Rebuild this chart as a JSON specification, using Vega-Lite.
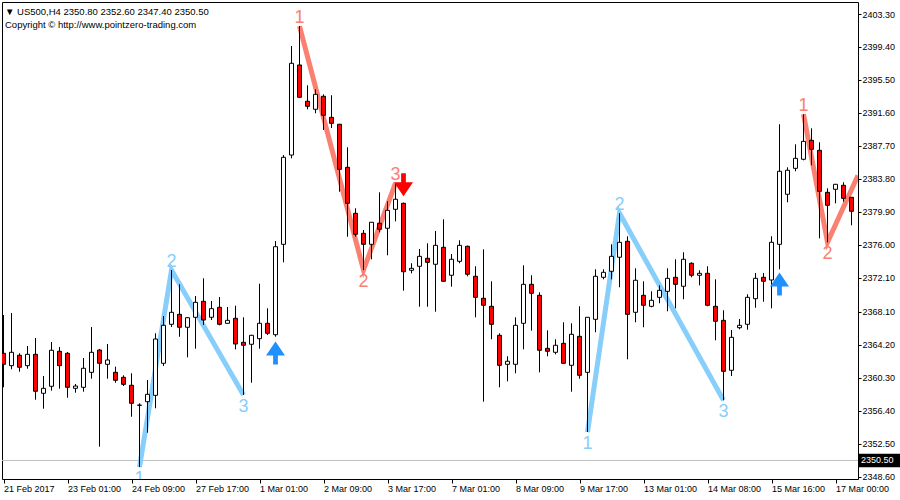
{
  "$schema": "https://vega.github.io/schema/vega-lite/v6.json",
  "autosize": "none",
  "width": 856,
  "height": 477,
  "padding": {"left": 2, "top": 2, "right": 42, "bottom": 21},
  "background": "#ffffff",
  "title": {
    "text": "▼ US500,H4  2350.80 2352.60 2347.40 2350.50",
    "subtitle": "Copyright © http://www.pointzero-trading.com",
    "anchor": "start",
    "frame": "group",
    "font": "Liberation Sans",
    "fontSize": 9.5,
    "fontWeight": "normal",
    "color": "#000000",
    "subtitleFont": "Liberation Sans",
    "subtitleFontSize": 9.5,
    "subtitleColor": "#000000",
    "subtitlePadding": 3.5,
    "offset": 0,
    "dx": 3,
    "dy": 27
  },
  "datasets": {
    "candles": [
      {"i":0,"o":2363.17,"h":2367.70,"l":2359.15,"c":2361.87},
      {"i":1,"o":2361.71,"h":2367.94,"l":2361.28,"c":2363.29},
      {"i":2,"o":2362.94,"h":2363.17,"l":2361.00,"c":2361.52},
      {"i":3,"o":2361.71,"h":2364.04,"l":2361.35,"c":2363.05},
      {"i":4,"o":2363.05,"h":2364.98,"l":2357.68,"c":2358.68},
      {"i":5,"o":2358.44,"h":2360.49,"l":2356.62,"c":2359.03},
      {"i":6,"o":2359.27,"h":2364.51,"l":2358.75,"c":2363.53},
      {"i":7,"o":2363.41,"h":2363.92,"l":2358.99,"c":2361.71},
      {"i":8,"o":2363.17,"h":2363.33,"l":2357.92,"c":2359.15},
      {"i":9,"o":2359.03,"h":2359.54,"l":2358.51,"c":2359.30},
      {"i":10,"o":2359.15,"h":2362.62,"l":2358.63,"c":2361.40},
      {"i":11,"o":2360.92,"h":2366.28,"l":2360.17,"c":2363.29},
      {"i":12,"o":2363.56,"h":2363.68,"l":2352.13,"c":2361.99},
      {"i":13,"o":2361.87,"h":2364.27,"l":2360.17,"c":2362.38},
      {"i":14,"o":2360.92,"h":2361.59,"l":2359.69,"c":2359.98},
      {"i":15,"o":2360.33,"h":2360.57,"l":2359.30,"c":2359.50},
      {"i":16,"o":2359.39,"h":2360.81,"l":2355.67,"c":2357.26},
      {"i":17,"o":2357.02,"h":2357.26,"l":2349.72,"c":2357.05},
      {"i":18,"o":2357.45,"h":2360.01,"l":2353.78,"c":2358.32},
      {"i":19,"o":2358.20,"h":2365.54,"l":2356.67,"c":2364.86},
      {"i":20,"o":2361.99,"h":2367.58,"l":2361.67,"c":2366.48},
      {"i":21,"o":2366.60,"h":2373.02,"l":2366.28,"c":2368.02},
      {"i":22,"o":2367.78,"h":2371.33,"l":2365.13,"c":2366.25},
      {"i":23,"o":2366.25,"h":2367.46,"l":2362.70,"c":2367.38},
      {"i":24,"o":2367.43,"h":2369.95,"l":2363.72,"c":2369.20},
      {"i":25,"o":2369.32,"h":2372.04,"l":2366.52,"c":2367.11},
      {"i":26,"o":2367.43,"h":2369.36,"l":2367.11,"c":2368.45},
      {"i":27,"o":2368.61,"h":2369.83,"l":2366.48,"c":2366.60},
      {"i":28,"o":2366.72,"h":2368.65,"l":2366.70,"c":2367.07},
      {"i":29,"o":2367.31,"h":2368.80,"l":2363.64,"c":2364.27},
      {"i":30,"o":2364.47,"h":2367.43,"l":2358.24,"c":2364.12},
      {"i":31,"o":2364.24,"h":2365.35,"l":2359.69,"c":2365.30},
      {"i":32,"o":2364.90,"h":2371.40,"l":2363.72,"c":2366.72},
      {"i":33,"o":2366.72,"h":2368.49,"l":2365.34,"c":2365.54},
      {"i":34,"o":2365.37,"h":2376.45,"l":2365.13,"c":2375.78},
      {"i":35,"o":2376.06,"h":2386.62,"l":2373.93,"c":2386.35},
      {"i":36,"o":2386.62,"h":2399.52,"l":2386.23,"c":2397.47},
      {"i":37,"o":2397.27,"h":2401.88,"l":2393.37,"c":2393.45},
      {"i":38,"o":2392.98,"h":2394.87,"l":2392.03,"c":2392.38},
      {"i":39,"o":2392.03,"h":2394.39,"l":2391.56,"c":2393.80},
      {"i":40,"o":2393.57,"h":2393.80,"l":2389.58,"c":2391.32},
      {"i":41,"o":2391.08,"h":2393.69,"l":2389.82,"c":2390.37},
      {"i":42,"o":2390.26,"h":2390.30,"l":2382.28,"c":2384.93},
      {"i":43,"o":2385.17,"h":2387.54,"l":2376.96,"c":2380.91},
      {"i":44,"o":2379.73,"h":2380.32,"l":2376.96,"c":2377.25},
      {"i":45,"o":2377.36,"h":2377.75,"l":2373.02,"c":2376.06},
      {"i":46,"o":2376.06,"h":2378.70,"l":2374.29,"c":2378.67},
      {"i":47,"o":2378.55,"h":2382.21,"l":2377.48,"c":2377.84},
      {"i":48,"o":2377.96,"h":2381.15,"l":2374.76,"c":2380.08},
      {"i":49,"o":2380.20,"h":2383.31,"l":2378.78,"c":2381.39},
      {"i":50,"o":2380.91,"h":2381.00,"l":2370.58,"c":2372.82},
      {"i":51,"o":2372.99,"h":2373.82,"l":2372.63,"c":2373.22},
      {"i":52,"o":2373.46,"h":2375.51,"l":2368.68,"c":2374.64},
      {"i":53,"o":2374.41,"h":2376.18,"l":2368.68,"c":2373.93},
      {"i":54,"o":2373.70,"h":2377.64,"l":2368.09,"c":2375.94},
      {"i":55,"o":2375.71,"h":2379.02,"l":2371.65,"c":2371.69},
      {"i":56,"o":2372.40,"h":2374.92,"l":2371.05,"c":2374.29},
      {"i":57,"o":2374.05,"h":2376.54,"l":2373.82,"c":2375.94},
      {"i":58,"o":2375.83,"h":2375.90,"l":2372.28,"c":2372.52},
      {"i":59,"o":2372.28,"h":2373.46,"l":2367.43,"c":2369.79},
      {"i":60,"o":2369.68,"h":2375.47,"l":2357.45,"c":2368.85},
      {"i":61,"o":2368.73,"h":2371.69,"l":2364.83,"c":2366.60},
      {"i":62,"o":2365.30,"h":2365.54,"l":2359.15,"c":2361.75},
      {"i":63,"o":2361.87,"h":2362.82,"l":2359.86,"c":2362.23},
      {"i":64,"o":2361.87,"h":2367.43,"l":2360.81,"c":2366.48},
      {"i":65,"o":2366.72,"h":2373.58,"l":2363.64,"c":2371.33},
      {"i":66,"o":2371.33,"h":2372.40,"l":2365.85,"c":2370.27},
      {"i":67,"o":2370.03,"h":2370.39,"l":2360.92,"c":2363.53},
      {"i":68,"o":2363.76,"h":2365.89,"l":2362.82,"c":2363.41},
      {"i":69,"o":2363.29,"h":2364.83,"l":2363.05,"c":2364.12},
      {"i":70,"o":2364.35,"h":2366.84,"l":2361.95,"c":2361.99},
      {"i":71,"o":2361.75,"h":2366.72,"l":2358.63,"c":2365.42},
      {"i":72,"o":2365.18,"h":2368.73,"l":2360.17,"c":2360.57},
      {"i":73,"o":2360.92,"h":2367.45,"l":2353.86,"c":2367.43},
      {"i":74,"o":2367.19,"h":2373.11,"l":2365.66,"c":2372.28},
      {"i":75,"o":2372.16,"h":2373.11,"l":2371.92,"c":2372.75},
      {"i":76,"o":2372.87,"h":2376.06,"l":2371.92,"c":2374.64},
      {"i":77,"o":2374.53,"h":2379.73,"l":2370.98,"c":2376.30},
      {"i":78,"o":2376.42,"h":2377.01,"l":2362.46,"c":2367.78},
      {"i":79,"o":2368.02,"h":2373.22,"l":2366.84,"c":2371.81},
      {"i":80,"o":2370.03,"h":2371.69,"l":2366.25,"c":2368.85},
      {"i":81,"o":2368.73,"h":2370.50,"l":2368.61,"c":2369.44},
      {"i":82,"o":2369.79,"h":2371.21,"l":2369.09,"c":2370.62},
      {"i":83,"o":2370.50,"h":2373.22,"l":2368.14,"c":2372.04},
      {"i":84,"o":2372.16,"h":2374.29,"l":2368.49,"c":2371.33},
      {"i":85,"o":2371.10,"h":2375.12,"l":2369.56,"c":2374.29},
      {"i":86,"o":2373.82,"h":2373.93,"l":2372.16,"c":2372.40},
      {"i":87,"o":2372.40,"h":2372.99,"l":2371.21,"c":2372.63},
      {"i":88,"o":2372.63,"h":2373.46,"l":2368.73,"c":2368.85},
      {"i":89,"o":2368.73,"h":2371.92,"l":2364.71,"c":2366.96},
      {"i":90,"o":2367.07,"h":2368.26,"l":2357.61,"c":2361.04},
      {"i":91,"o":2361.16,"h":2365.93,"l":2360.49,"c":2365.06},
      {"i":92,"o":2366.20,"h":2367.23,"l":2366.01,"c":2366.48},
      {"i":93,"o":2366.60,"h":2370.15,"l":2365.96,"c":2369.79},
      {"i":94,"o":2369.63,"h":2372.67,"l":2368.56,"c":2372.04},
      {"i":95,"o":2372.16,"h":2372.67,"l":2369.27,"c":2371.69},
      {"i":96,"o":2371.84,"h":2377.01,"l":2368.49,"c":2376.30},
      {"i":97,"o":2376.06,"h":2390.26,"l":2373.11,"c":2384.70},
      {"i":98,"o":2381.98,"h":2385.17,"l":2381.03,"c":2384.82},
      {"i":99,"o":2385.05,"h":2387.89,"l":2384.70,"c":2386.23},
      {"i":100,"o":2386.12,"h":2391.44,"l":2386.00,"c":2388.24},
      {"i":101,"o":2388.36,"h":2389.78,"l":2385.41,"c":2387.30},
      {"i":102,"o":2387.18,"h":2388.13,"l":2376.77,"c":2382.33},
      {"i":103,"o":2382.21,"h":2382.69,"l":2376.30,"c":2380.68},
      {"i":104,"o":2382.57,"h":2383.20,"l":2380.91,"c":2383.16},
      {"i":105,"o":2383.04,"h":2383.40,"l":2381.10,"c":2381.50},
      {"i":106,"o":2381.62,"h":2381.65,"l":2378.31,"c":2379.97}
    ],
    "zigzag": [
      {"i":17,"p":2349.72,"leg":"b1","dir":"bull","lab":"1","pos":"lo"},
      {"i":21,"p":2373.02,"leg":"b1","dir":"bull","lab":"2","pos":"hi"},
      {"i":30,"p":2358.24,"leg":"b1","dir":"bull","lab":"3","pos":"lo"},
      {"i":37,"p":2401.88,"leg":"r1","dir":"bear","lab":"1","pos":"hi"},
      {"i":45,"p":2373.02,"leg":"r1","dir":"bear","lab":"2","pos":"lo"},
      {"i":49,"p":2383.31,"leg":"r1","dir":"bear","lab":"3","pos":"hi"},
      {"i":73,"p":2353.86,"leg":"b2","dir":"bull","lab":"1","pos":"lo"},
      {"i":77,"p":2379.73,"leg":"b2","dir":"bull","lab":"2","pos":"hi"},
      {"i":90,"p":2357.61,"leg":"b2","dir":"bull","lab":"3","pos":"lo"},
      {"i":100,"p":2391.44,"leg":"r2","dir":"bear","lab":"1","pos":"hi"},
      {"i":103,"p":2376.30,"leg":"r2","dir":"bear","lab":"2","pos":"lo"},
      {"i":106.8,"p":2384.2,"leg":"r2","dir":"bear","lab":"","pos":"open"}
    ],
    "signals": [
      {"i":34,"p":2363.21,"sig":"buy"},
      {"i":50,"p":2383.11,"sig":"sell"},
      {"i":97,"p":2371.37,"sig":"buy"}
    ],
    "current": [
      {"price":2350.5,"label":"2350.50"}
    ]
  },
  "layer": [
    {
      "data": {"name": "current"},
      "mark": {"type": "rule", "color": "#C0C0C0", "strokeWidth": 1},
      "encoding": {
        "y": {"field": "price", "type": "quantitative", "scale": {"domain": [2348.305, 2404.72], "nice": false, "zero": false, "padding": 0},
          "axis": {"orient": "right", "title": null, "values": [2348.6, 2352.5, 2356.4, 2360.3, 2364.2, 2368.1, 2372.1, 2376.0, 2379.9, 2383.8, 2387.7, 2391.6, 2395.5, 2399.4, 2403.3],
            "format": ".2f", "labelAlign": "left", "labelBaseline": "middle", "labelPadding": 1, "tickSize": 3,
            "labelOverlap": false, "labelBound": false, "labelFlush": false, "domain": false, "grid": false}}
      }
    },
    {
      "data": {"name": "zigzag"},
      "mark": {"type": "line", "strokeWidth": 5, "strokeJoin": "miter", "strokeCap": "butt", "clip": true},
      "encoding": {
        "x": {"field": "i", "type": "quantitative", "scale": {"domain": [-0.1875, 106.8125], "nice": false, "zero": false, "padding": 0},
          "axis": {"orient": "bottom", "title": null, "values": [0, 8, 16, 24, 32, 40, 48, 56, 64, 72, 80, 88, 96, 104],
            "labelExpr": "['21 Feb 2017','23 Feb 01:00','24 Feb 09:00','27 Feb 17:00','1 Mar 01:00','2 Mar 09:00','3 Mar 17:00','7 Mar 01:00','8 Mar 09:00','9 Mar 17:00','13 Mar 01:00','14 Mar 08:00','15 Mar 16:00','17 Mar 00:00'][round(datum.value/8)]",
            "labelAlign": "left", "labelBaseline": "top", "labelDx": 0, "labelPadding": 1, "tickSize": 4,
            "labelOverlap": false, "labelBound": false, "labelFlush": false, "domain": false, "grid": false}},
        "y": {"field": "p", "type": "quantitative", "scale": {"domain": [2348.305, 2404.72], "nice": false, "zero": false, "padding": 0},
          "axis": {"orient": "right", "title": null, "values": [2348.6, 2352.5, 2356.4, 2360.3, 2364.2, 2368.1, 2372.1, 2376.0, 2379.9, 2383.8, 2387.7, 2391.6, 2395.5, 2399.4, 2403.3],
            "format": ".2f", "labelAlign": "left", "labelBaseline": "middle", "labelPadding": 1, "tickSize": 3,
            "labelOverlap": false, "labelBound": false, "labelFlush": false, "domain": false, "grid": false}},
        "detail": {"field": "leg"},
        "color": {"field": "dir", "type": "nominal", "scale": {"domain": ["bull", "bear", "buy", "sell"], "range": ["#87CEFA", "#FA8072", "#1E90FF", "#FF0000"]}, "legend": null}
      }
    },
    {
      "data": {"name": "candles"},
      "mark": {"type": "rule", "color": "#000000", "strokeWidth": 1, "clip": true},
      "encoding": {
        "x": {"field": "i", "type": "quantitative", "scale": {"domain": [-0.1875, 106.8125], "nice": false, "zero": false, "padding": 0},
          "axis": {"orient": "bottom", "title": null, "values": [0, 8, 16, 24, 32, 40, 48, 56, 64, 72, 80, 88, 96, 104],
            "labelExpr": "['21 Feb 2017','23 Feb 01:00','24 Feb 09:00','27 Feb 17:00','1 Mar 01:00','2 Mar 09:00','3 Mar 17:00','7 Mar 01:00','8 Mar 09:00','9 Mar 17:00','13 Mar 01:00','14 Mar 08:00','15 Mar 16:00','17 Mar 00:00'][round(datum.value/8)]",
            "labelAlign": "left", "labelBaseline": "top", "labelDx": 0, "labelPadding": 1, "tickSize": 4,
            "labelOverlap": false, "labelBound": false, "labelFlush": false, "domain": false, "grid": false}},
        "y": {"field": "l", "type": "quantitative", "scale": {"domain": [2348.305, 2404.72], "nice": false, "zero": false, "padding": 0},
          "axis": {"orient": "right", "title": null, "values": [2348.6, 2352.5, 2356.4, 2360.3, 2364.2, 2368.1, 2372.1, 2376.0, 2379.9, 2383.8, 2387.7, 2391.6, 2395.5, 2399.4, 2403.3],
            "format": ".2f", "labelAlign": "left", "labelBaseline": "middle", "labelPadding": 1, "tickSize": 3,
            "labelOverlap": false, "labelBound": false, "labelFlush": false, "domain": false, "grid": false}},
        "y2": {"field": "h"}
      }
    },
    {
      "data": {"name": "candles"},
      "mark": {"type": "bar", "orient": "vertical", "size": 4, "stroke": "#000000", "strokeWidth": 1, "clip": true},
      "encoding": {
        "x": {"field": "i", "type": "quantitative", "scale": {"domain": [-0.1875, 106.8125], "nice": false, "zero": false, "padding": 0},
          "axis": {"orient": "bottom", "title": null, "values": [0, 8, 16, 24, 32, 40, 48, 56, 64, 72, 80, 88, 96, 104],
            "labelExpr": "['21 Feb 2017','23 Feb 01:00','24 Feb 09:00','27 Feb 17:00','1 Mar 01:00','2 Mar 09:00','3 Mar 17:00','7 Mar 01:00','8 Mar 09:00','9 Mar 17:00','13 Mar 01:00','14 Mar 08:00','15 Mar 16:00','17 Mar 00:00'][round(datum.value/8)]",
            "labelAlign": "left", "labelBaseline": "top", "labelDx": 0, "labelPadding": 1, "tickSize": 4,
            "labelOverlap": false, "labelBound": false, "labelFlush": false, "domain": false, "grid": false}},
        "y": {"field": "o", "type": "quantitative", "scale": {"domain": [2348.305, 2404.72], "nice": false, "zero": false, "padding": 0},
          "axis": {"orient": "right", "title": null, "values": [2348.6, 2352.5, 2356.4, 2360.3, 2364.2, 2368.1, 2372.1, 2376.0, 2379.9, 2383.8, 2387.7, 2391.6, 2395.5, 2399.4, 2403.3],
            "format": ".2f", "labelAlign": "left", "labelBaseline": "middle", "labelPadding": 1, "tickSize": 3,
            "labelOverlap": false, "labelBound": false, "labelFlush": false, "domain": false, "grid": false}},
        "y2": {"field": "c"},
        "fill": {"condition": {"test": "datum.c < datum.o", "value": "#FF0000"}, "value": "#FFFFFF"}
      }
    },
    {
      "data": {"name": "zigzag"},
      "transform": [{"filter": "datum.pos == 'hi'"}],
      "mark": {"type": "text", "font": "Liberation Sans", "fontSize": 18, "baseline": "alphabetic", "align": "center", "dy": -3, "clip": true},
      "encoding": {
        "x": {"field": "i", "type": "quantitative", "scale": {"domain": [-0.1875, 106.8125], "nice": false, "zero": false, "padding": 0},
          "axis": {"orient": "bottom", "title": null, "values": [0, 8, 16, 24, 32, 40, 48, 56, 64, 72, 80, 88, 96, 104],
            "labelExpr": "['21 Feb 2017','23 Feb 01:00','24 Feb 09:00','27 Feb 17:00','1 Mar 01:00','2 Mar 09:00','3 Mar 17:00','7 Mar 01:00','8 Mar 09:00','9 Mar 17:00','13 Mar 01:00','14 Mar 08:00','15 Mar 16:00','17 Mar 00:00'][round(datum.value/8)]",
            "labelAlign": "left", "labelBaseline": "top", "labelDx": 0, "labelPadding": 1, "tickSize": 4,
            "labelOverlap": false, "labelBound": false, "labelFlush": false, "domain": false, "grid": false}},
        "y": {"field": "p", "type": "quantitative", "scale": {"domain": [2348.305, 2404.72], "nice": false, "zero": false, "padding": 0},
          "axis": {"orient": "right", "title": null, "values": [2348.6, 2352.5, 2356.4, 2360.3, 2364.2, 2368.1, 2372.1, 2376.0, 2379.9, 2383.8, 2387.7, 2391.6, 2395.5, 2399.4, 2403.3],
            "format": ".2f", "labelAlign": "left", "labelBaseline": "middle", "labelPadding": 1, "tickSize": 3,
            "labelOverlap": false, "labelBound": false, "labelFlush": false, "domain": false, "grid": false}},
        "text": {"field": "lab"},
        "color": {"field": "dir", "type": "nominal", "scale": {"domain": ["bull", "bear", "buy", "sell"], "range": ["#87CEFA", "#FA8072", "#1E90FF", "#FF0000"]}, "legend": null}
      }
    },
    {
      "data": {"name": "zigzag"},
      "transform": [{"filter": "datum.pos == 'lo'"}],
      "mark": {"type": "text", "font": "Liberation Sans", "fontSize": 18, "baseline": "alphabetic", "align": "center", "dy": 17, "clip": true},
      "encoding": {
        "x": {"field": "i", "type": "quantitative", "scale": {"domain": [-0.1875, 106.8125], "nice": false, "zero": false, "padding": 0},
          "axis": {"orient": "bottom", "title": null, "values": [0, 8, 16, 24, 32, 40, 48, 56, 64, 72, 80, 88, 96, 104],
            "labelExpr": "['21 Feb 2017','23 Feb 01:00','24 Feb 09:00','27 Feb 17:00','1 Mar 01:00','2 Mar 09:00','3 Mar 17:00','7 Mar 01:00','8 Mar 09:00','9 Mar 17:00','13 Mar 01:00','14 Mar 08:00','15 Mar 16:00','17 Mar 00:00'][round(datum.value/8)]",
            "labelAlign": "left", "labelBaseline": "top", "labelDx": 0, "labelPadding": 1, "tickSize": 4,
            "labelOverlap": false, "labelBound": false, "labelFlush": false, "domain": false, "grid": false}},
        "y": {"field": "p", "type": "quantitative", "scale": {"domain": [2348.305, 2404.72], "nice": false, "zero": false, "padding": 0},
          "axis": {"orient": "right", "title": null, "values": [2348.6, 2352.5, 2356.4, 2360.3, 2364.2, 2368.1, 2372.1, 2376.0, 2379.9, 2383.8, 2387.7, 2391.6, 2395.5, 2399.4, 2403.3],
            "format": ".2f", "labelAlign": "left", "labelBaseline": "middle", "labelPadding": 1, "tickSize": 3,
            "labelOverlap": false, "labelBound": false, "labelFlush": false, "domain": false, "grid": false}},
        "text": {"field": "lab"},
        "color": {"field": "dir", "type": "nominal", "scale": {"domain": ["bull", "bear", "buy", "sell"], "range": ["#87CEFA", "#FA8072", "#1E90FF", "#FF0000"]}, "legend": null}
      }
    },
    {
      "data": {"name": "signals"},
      "mark": {"type": "point", "filled": true, "size": 361, "opacity": 1, "strokeWidth": 0},
      "encoding": {
        "x": {"field": "i", "type": "quantitative", "scale": {"domain": [-0.1875, 106.8125], "nice": false, "zero": false, "padding": 0},
          "axis": {"orient": "bottom", "title": null, "values": [0, 8, 16, 24, 32, 40, 48, 56, 64, 72, 80, 88, 96, 104],
            "labelExpr": "['21 Feb 2017','23 Feb 01:00','24 Feb 09:00','27 Feb 17:00','1 Mar 01:00','2 Mar 09:00','3 Mar 17:00','7 Mar 01:00','8 Mar 09:00','9 Mar 17:00','13 Mar 01:00','14 Mar 08:00','15 Mar 16:00','17 Mar 00:00'][round(datum.value/8)]",
            "labelAlign": "left", "labelBaseline": "top", "labelDx": 0, "labelPadding": 1, "tickSize": 4,
            "labelOverlap": false, "labelBound": false, "labelFlush": false, "domain": false, "grid": false}},
        "y": {"field": "p", "type": "quantitative", "scale": {"domain": [2348.305, 2404.72], "nice": false, "zero": false, "padding": 0},
          "axis": {"orient": "right", "title": null, "values": [2348.6, 2352.5, 2356.4, 2360.3, 2364.2, 2368.1, 2372.1, 2376.0, 2379.9, 2383.8, 2387.7, 2391.6, 2395.5, 2399.4, 2403.3],
            "format": ".2f", "labelAlign": "left", "labelBaseline": "middle", "labelPadding": 1, "tickSize": 3,
            "labelOverlap": false, "labelBound": false, "labelFlush": false, "domain": false, "grid": false}},
        "shape": {"field": "sig", "type": "nominal", "scale": {"domain": ["buy", "sell"], "range": ["M0,-1.21 L1,0.26 L0.25,0.26 L0.25,1.21 L-0.25,1.21 L-0.25,0.26 L-1,0.26 Z", "M0,1.21 L1,-0.26 L0.25,-0.26 L0.25,-1.21 L-0.25,-1.21 L-0.25,-0.26 L-1,-0.26 Z"]}, "legend": null},
        "color": {"field": "sig", "type": "nominal", "scale": {"domain": ["bull", "bear", "buy", "sell"], "range": ["#87CEFA", "#FA8072", "#1E90FF", "#FF0000"]}, "legend": null}
      }
    },
    {
      "data": {"name": "current"},
      "mark": {"type": "point", "filled": true, "size": 400, "color": "#000000", "opacity": 1, "strokeWidth": 0, "shape": "M0,-0.68 L4.4,-0.68 L4.4,0.68 L0,0.68 Z"},
      "encoding": {
        "x": {"value": "width"},
        "y": {"field": "price", "type": "quantitative", "scale": {"domain": [2348.305, 2404.72], "nice": false, "zero": false, "padding": 0},
          "axis": {"orient": "right", "title": null, "values": [2348.6, 2352.5, 2356.4, 2360.3, 2364.2, 2368.1, 2372.1, 2376.0, 2379.9, 2383.8, 2387.7, 2391.6, 2395.5, 2399.4, 2403.3],
            "format": ".2f", "labelAlign": "left", "labelBaseline": "middle", "labelPadding": 1, "tickSize": 3,
            "labelOverlap": false, "labelBound": false, "labelFlush": false, "domain": false, "grid": false}}
      }
    },
    {
      "data": {"name": "current"},
      "mark": {"type": "text", "color": "#FFFFFF", "font": "Liberation Sans", "fontSize": 9, "align": "left", "baseline": "middle", "dx": 3},
      "encoding": {
        "x": {"value": "width"},
        "y": {"field": "price", "type": "quantitative", "scale": {"domain": [2348.305, 2404.72], "nice": false, "zero": false, "padding": 0},
          "axis": {"orient": "right", "title": null, "values": [2348.6, 2352.5, 2356.4, 2360.3, 2364.2, 2368.1, 2372.1, 2376.0, 2379.9, 2383.8, 2387.7, 2391.6, 2395.5, 2399.4, 2403.3],
            "format": ".2f", "labelAlign": "left", "labelBaseline": "middle", "labelPadding": 1, "tickSize": 3,
            "labelOverlap": false, "labelBound": false, "labelFlush": false, "domain": false, "grid": false}},
        "text": {"field": "label"}
      }
    }
  ],
  "config": {
    "view": {"stroke": "#000000", "strokeWidth": 1},
    "axis": {"labelFont": "Liberation Sans", "labelFontSize": 9, "labelColor": "#000000", "tickColor": "#000000", "tickWidth": 1}
  }
}
